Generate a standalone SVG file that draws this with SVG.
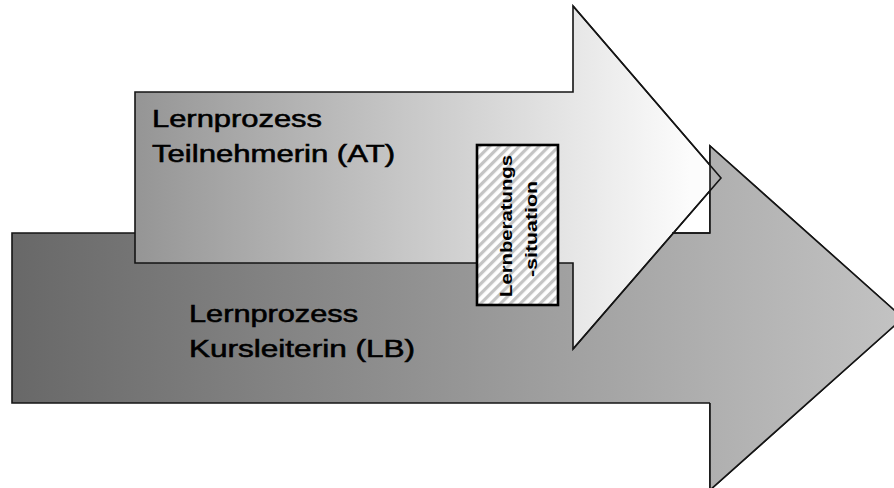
<svg xmlns="http://www.w3.org/2000/svg" width="894" height="488" viewBox="0 0 894 488">
  <defs>
    <linearGradient id="gBack" gradientUnits="userSpaceOnUse" x1="12" y1="0" x2="903" y2="0">
      <stop offset="0" stop-color="#686868"/>
      <stop offset="1" stop-color="#c3c3c3"/>
    </linearGradient>
    <linearGradient id="gFront" gradientUnits="userSpaceOnUse" x1="135" y1="0" x2="690" y2="0">
      <stop offset="0" stop-color="#959595"/>
      <stop offset="1" stop-color="#fcfcfc"/>
    </linearGradient>
    <pattern id="hatch" width="7" height="7" patternUnits="userSpaceOnUse" patternTransform="rotate(45)">
      <rect width="7" height="7" fill="#ffffff"/>
      <rect width="3.2" height="7" fill="#c4c4c4"/>
    </pattern>
  </defs>
  <style>
    .edge { stroke: #151515; stroke-width: 1.6; stroke-linejoin: miter; }
    .label { font-family: "Liberation Sans", Arial, sans-serif; font-size: 23px; fill: #000000; stroke: #000000; stroke-width: 0.55; }
    .vlabel { font-family: "Liberation Sans", Arial, sans-serif; font-size: 16px; font-weight: bold; fill: #000000; text-anchor: middle; }
  </style>
  <rect width="894" height="488" fill="#ffffff"/>

  <g id="lernprozess-lb">
    <path class="edge" fill="url(#gBack)" d="M12,233 H710 V146 L903,318 L710,490 V403 H12 Z"/>
  </g>

  <g id="lernprozess-at">
    <path class="edge" fill="url(#gFront)" d="M135,92 H573 V6 L721,178 L573,349 V263 H135 Z"/>
  </g>

  <g id="lernprozess-lb-head">
    <path fill="url(#gBack)" d="M710,146 L903,318 L710,490 Z"/>
    <path class="edge" fill="none" d="M672,233 H710 V146 L903,318 L710,490 V403"/>
    <path class="edge" fill="none" d="M573,6 L721,178 L573,349"/>
  </g>

  <g id="lernprozess-at-text">
    <text class="label" x="152" y="127" textLength="170" lengthAdjust="spacingAndGlyphs">Lernprozess</text>
    <text class="label" x="152" y="162" textLength="243" lengthAdjust="spacingAndGlyphs">Teilnehmerin (AT)</text>
  </g>

  <g id="lernprozess-lb-text">
    <text class="label" x="189" y="322" textLength="169" lengthAdjust="spacingAndGlyphs">Lernprozess</text>
    <text class="label" x="189" y="357" textLength="226" lengthAdjust="spacingAndGlyphs">Kursleiterin (LB)</text>
  </g>

  <g id="lernberatungssituation">
    <rect x="477" y="145" width="81" height="160" fill="url(#hatch)" stroke="#000000" stroke-width="2.6"/>
    <text class="vlabel" transform="translate(512,226) rotate(-90)" x="0" y="0" textLength="142" lengthAdjust="spacingAndGlyphs">Lernberatungs</text>
    <text class="vlabel" transform="translate(537,229) rotate(-90)" x="0" y="0" textLength="96" lengthAdjust="spacingAndGlyphs">-situation</text>
  </g>
</svg>
